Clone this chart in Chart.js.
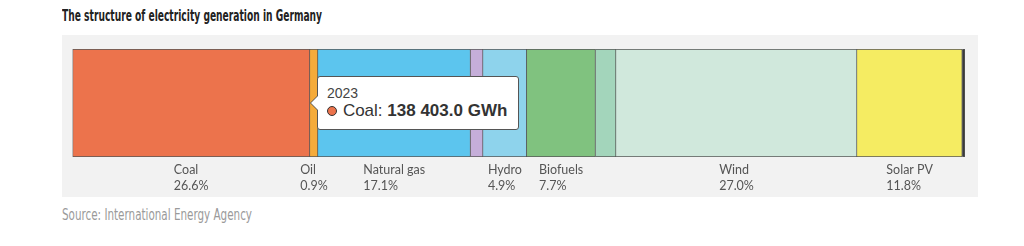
<!DOCTYPE html>
<html><head><meta charset="utf-8">
<script src="https://cdn.jsdelivr.net/npm/chart.js@4.4.1/dist/chart.umd.min.js"></script>
<style>
html,body{margin:0;padding:0;background:#fff;width:1024px;height:246px;overflow:hidden;}
#panel{position:absolute;left:62px;top:35px;width:916px;height:162px;background:#f2f2f2;}
#title{position:absolute;left:62px;top:6px;font:bold 16px "Liberation Sans Narrow","DejaVu Sans Condensed",sans-serif;color:#222;white-space:nowrap;transform-origin:0 0;}
#source{position:absolute;left:62px;top:206px;font:15px "Liberation Sans Narrow","DejaVu Sans Condensed",sans-serif;color:#9a9a9a;white-space:nowrap;transform-origin:0 0;}
#wrap{position:absolute;left:0;top:0;width:1024px;height:246px;}
#tip{position:absolute;display:none;background:#fff;border:1px solid #555;border-radius:3px;padding:8px 11px 8px 9px;font-family:"Liberation Sans",Arial,sans-serif;color:#333;white-space:nowrap;box-sizing:border-box;}
#tip:before,#tip:after{content:"";position:absolute;top:50%;width:0;height:0;border-style:solid;}
#tip:before{left:-8px;margin-top:-8px;border-width:8px 8px 8px 0;border-color:transparent #555 transparent transparent;}
#tip:after{left:-7px;margin-top:-7px;border-width:7px 7px 7px 0;border-color:transparent #fff transparent transparent;}
#tip .t{font-size:14px;line-height:16px;color:#444;}
#tip .b{font-size:17px;line-height:20px;color:#333;}
#tip .dot{display:inline-block;width:10px;height:10px;border-radius:50%;border:1px solid #333;box-sizing:border-box;margin-right:6px;vertical-align:0px;}
</style></head>
<body>
<div id="panel"></div>
<div id="title">The structure of electricity generation in Germany</div>
<div id="source">Source: International Energy Agency</div>
<div id="wrap"><canvas id="c" width="1024" height="246"></canvas></div>
<div id="tip"></div>
<script>
const year = ['2023'];
const sources = ['Coal','Oil','Natural gas','Nuclear','Hydro','Biofuels','Waste','Wind','Solar PV','Other'];
const valuesGWh = [138403.0, 4683, 88973, 7284, 25495, 40064, 11967, 140484, 61397, 1561];
const shareLabels = ['26.6%','0.9%','17.1%',null,'4.9%','7.7%',null,'27.0%','11.8%',null];
const showName = [true,true,true,false,true,true,false,true,true,false];
const colors = ['#ec734c','#f5ab3a','#5cc5ee','#c5aed9','#8ed3ec','#80c27f','#a3d5bb','#d0e8dc','#f5ec62','#3a3a3a'];

function fit(id, w){const e=document.getElementById(id);const r=e.getBoundingClientRect().width;e.style.transform='scaleX('+(w/r)+')';}
fit('title',260); fit('source',190);

const total = valuesGWh.reduce((a,b)=>a+b,0);

const datasets = sources.map((s,i)=>({
  label:s, data:[valuesGWh[i]], backgroundColor:colors[i],
  borderColor:'rgba(35,35,35,0.75)', borderWidth:1, borderSkipped: i===0?false:'start',
  barPercentage:1, categoryPercentage:1, stack:'s'
}));

const labelPlugin = {
  id:'segLabels',
  afterDatasetsDraw(chart){
    const ctx = chart.ctx, ca = chart.chartArea;
    ctx.save();
    ctx.font = '12.5px Lato, "Open Sans", sans-serif';
    ctx.fillStyle = '#555';
    ctx.textBaseline = 'middle';
    ctx.textAlign = 'left';
    sources.forEach((s,i)=>{
      if(!showName[i]) return;
      const el = chart.getDatasetMeta(i).data[0];
      const cx = (el.base + el.x)/2;
      const w = Math.max(ctx.measureText(s).width, ctx.measureText(shareLabels[i]).width);
      const x0 = cx - w/2;
      ctx.fillText(s, x0, ca.bottom + 13);
      ctx.fillText(shareLabels[i], x0, ca.bottom + 29);
    });
    ctx.restore();
  }
};

Chart.Tooltip.positioners.barEnd = function(items){
  if(!items.length) return false;
  const el = items[0].element;
  return {x: el.x, y: el.y};
};

function fmt(v){
  const p = v.toFixed(1).split('.');
  return p[0].replace(/\B(?=(\d{3})+(?!\d))/g,' ') + '.' + p[1];
}

const chart = new Chart(document.getElementById('c'), {
  type:'bar',
  data:{labels:year, datasets},
  options:{
    indexAxis:'y', responsive:false, animation:false, events:[],
    layout:{padding:{left:72.5,right:59,top:49,bottom:89}},
    scales:{
      x:{stacked:true,min:0,max:total,display:false},
      y:{stacked:true,display:false}
    },
    plugins:{
      legend:{display:false},
      tooltip:{
        enabled:false, position:'barEnd',
        external(context){
          const t = context.tooltip, tip = document.getElementById('tip');
          if(!t.dataPoints || !t.dataPoints.length){tip.style.display='none';return;}
          const dp = t.dataPoints[0];
          const i = dp.datasetIndex;
          tip.innerHTML = '<div class="t">'+dp.label+'</div>'+
            '<div class="b"><span class="dot" style="background:'+colors[i]+'"></span>'+
            sources[i]+': <b>'+fmt(dp.raw)+' GWh</b></div>';
          tip.style.display='block';
          const h = tip.offsetHeight;
          tip.style.left = (t.caretX + 7) + 'px';
          tip.style.top = (t.caretY - h/2) + 'px';
        }
      }
    }
  },
  plugins:[labelPlugin]
});
const el0 = chart.getDatasetMeta(0).data[0];
chart.tooltip.setActiveElements([{datasetIndex:0,index:0}], {x:el0.x, y:el0.y});
chart.update();
</script>
</body></html>
